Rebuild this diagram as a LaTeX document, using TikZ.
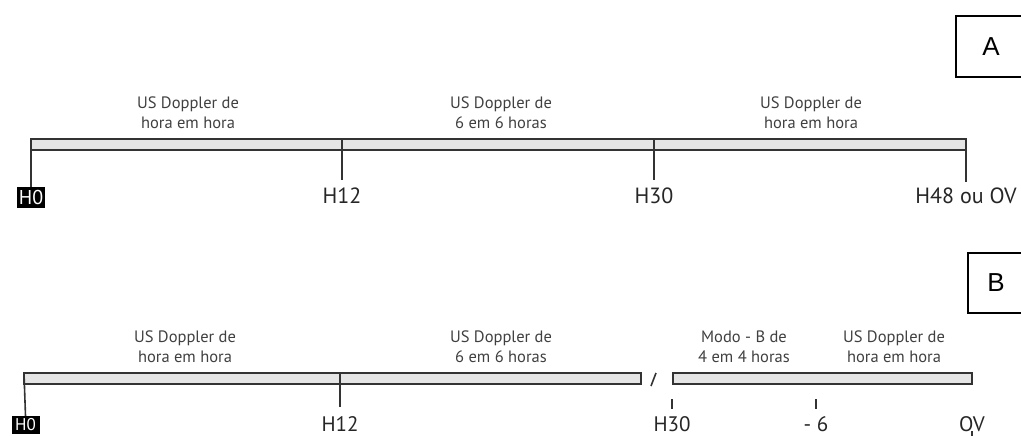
\documentclass[tikz,border=0pt]{standalone}
\usepackage{fontspec}
\setmainfont{PT Sans}
\newfontfamily\tagfont{Liberation Sans}
\begin{document}
\begin{tikzpicture}[x=1pt,y=-1pt,
  bar/.style={draw=black!80, fill=black!10, line width=1.6pt},
  tickline/.style={draw=black!80, line width=1.6pt},
  lbl/.style={font=\fontsize{16.5}{20}\selectfont, text=black!75, align=center, inner sep=0pt},
  hlab/.style={font=\fontsize{22}{22}\selectfont, text=black!85, anchor=base, inner sep=0pt},
  hzero/.style={fill=black, text=white, font=\fontsize{20}{20}\selectfont, inner sep=0pt, minimum width=28pt, minimum height=21pt},
  tagbox/.style={draw=black, line width=1.3pt, font=\tagfont\fontsize{26}{26}\selectfont, inner sep=0pt}
]
\useasboundingbox (0,0) rectangle (1021,436);
\clip (0,0) rectangle (1021,436);

% ---------- A ----------
\node[tagbox, minimum width=70pt, minimum height=61pt] (tagA) at (991,46.5) {A};

\draw[bar] (31,139) rectangle (966,150);
\coordinate (a0) at (31,139);
\coordinate (a12) at (342,139);
\coordinate (a30) at (654,139);
\coordinate (a48) at (966,139);

\node[lbl] (la1) at (188,113) {US Doppler de\\hora em hora};
\node[lbl] (la2) at (501,113) {US Doppler de\\6 em 6 horas};
\node[lbl] (la3) at (811,113) {US Doppler de\\hora em hora};

\node[hzero] (ah0) at (31,197.5) {H0};
\node[hlab] (ah12) at (342,203) {H12};
\node[hlab] (ah30) at (654,203) {H30};
\node[hlab] (ah48) at (966,203) {H48 ou OV};

\draw[tickline] (a0) -- (ah0.north);
\draw[tickline] (a12) -- ++(0,41);
\draw[tickline] (a30) -- ++(0,41);
\draw[tickline] (a48) -- ++(0,43);

% ---------- B ----------
\node[tagbox, minimum width=56pt, minimum height=60pt] (tagB) at (996,283) {B};

\draw[bar] (24,373) rectangle (641,384);
\draw[bar] (673,373) rectangle (972,384);
\draw[tickline, line width=1.6pt] (651,386) -- (656,373);
\coordinate (b0) at (24,373);
\coordinate (b12) at (340,373);
\coordinate (bov) at (972,373);

\node[lbl] (lb1) at (185,347) {US Doppler de\\hora em hora};
\node[lbl] (lb2) at (501,347) {US Doppler de\\6 em 6 horas};
\node[lbl] (lb3) at (744,347) {Modo - B de\\4 em 4 horas};
\node[lbl] (lb4) at (894,347) {US Doppler de\\hora em hora};

\node[hzero, minimum height=18pt, font=\fontsize{17}{17}\selectfont] (bh0) at (25.5,425) {H0};
\node[hlab, font=\fontsize{21}{21}\selectfont] (bh12) at (340,431) {H12};
\node[hlab, font=\fontsize{21}{21}\selectfont] (bh30) at (672,431) {H30};
\node[hlab, font=\fontsize{21}{21}\selectfont] (bm6) at (816,431) {- 6};
\node[hlab, font=\fontsize{21}{21}\selectfont] (bov) at (972,431) {OV};

\coordinate (t30) at (672,399);
\coordinate (t6) at (816,399);

\draw[tickline] (b0) -- (bh0.north);
\draw[tickline] (b12) -- ++(0,34);
\draw[tickline] (bov) -- ++(0,33);
\draw[tickline, line width=1.4pt] (t30) -- ++(0,10);
\draw[tickline, line width=1.4pt] (t6) -- ++(0,10);
\end{tikzpicture}
\end{document}
